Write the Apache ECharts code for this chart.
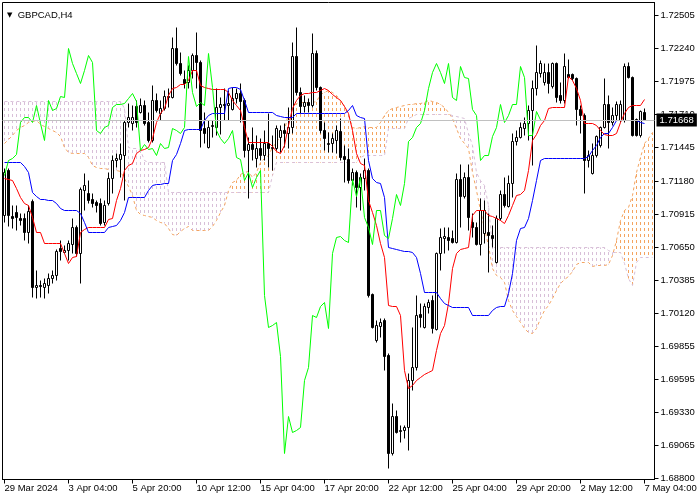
<!DOCTYPE html>
<html><head><meta charset="utf-8">
<script src="https://cdn.jsdelivr.net/npm/echarts@6/dist/echarts.min.js"></script>
<style>html,body{margin:0;padding:0;background:#fff}#c{width:700px;height:500px}</style>
</head><body><div id="c"></div>
<script>
const chartTitle = 'GBPCAD,H4';
const timeLabels = ['29 Mar 2024','3 Apr 04:00','5 Apr 20:00','10 Apr 12:00','15 Apr 04:00','17 Apr 20:00','22 Apr 12:00','25 Apr 04:00','29 Apr 20:00','2 May 12:00','7 May 04:00'];
const priceTicks = [1.68800,1.69065,1.69330,1.69595,1.69855,1.70120,1.70385,1.70650,1.70915,1.71180,1.71445,1.71710,1.71975,1.72240,1.72505];
const currentPrice = 1.71668;

const opens = [1.70903,1.71263,1.70895,1.70927,1.70879,1.70879,1.70767,1.71015,1.70327,1.70343,
1.70327,1.70343,1.70399,1.70423,1.70639,1.70607,1.70623,1.70671,1.70807,1.70599,
1.71103,1.71079,1.71031,1.71007,1.70999,1.70847,1.70999,1.71199,1.71343,1.71351,
1.71383,1.71647,1.71639,1.71775,1.71727,1.71783,1.71647,1.71503,1.71823,1.71719,
1.71759,1.71855,1.71847,1.72239,1.72119,1.71991,1.71967,1.72063,1.72183,1.72127,
1.71599,1.71447,1.71615,1.71607,1.71767,1.71791,1.71783,1.71751,1.71839,1.71879,
1.71823,1.71423,1.71471,1.71359,1.71439,1.71383,1.71479,1.71439,1.71439,1.71527,
1.71583,1.71559,1.71607,1.72175,1.71887,1.71775,1.71807,1.71783,1.72199,1.71927,
1.71583,1.71471,1.71479,1.71503,1.71575,1.71375,1.71351,1.71183,1.71247,1.71127,
1.71199,1.71263,1.70271,1.69903,1.70015,1.70063,1.69783,1.68999,1.69295,1.69175,
1.69183,1.69207,1.69583,1.69687,1.70111,1.70007,1.70167,1.70223,1.69991,1.70599,
1.70719,1.70727,1.70719,1.70687,1.71191,1.71055,1.71207,1.70847,1.70807,1.70671,
1.70759,1.70767,1.70743,1.70527,1.70879,1.71071,1.70975,1.71159,1.71495,1.71527,
1.71599,1.71639,1.71743,1.71919,1.72039,1.71967,1.72047,1.71935,1.72119,1.71863,
1.71823,1.72031,1.72031,1.71999,1.71751,1.71703,1.71343,1.71239,1.71383,1.71463,
1.71607,1.71791,1.71647,1.71703,1.71663,1.71663,1.72095,1.72007,1.71671,1.71543,
1.71727];
const closes = [1.71247,1.70903,1.70879,1.70887,1.70863,1.70767,1.70935,1.70327,1.70343,1.70335,
1.70359,1.70399,1.70423,1.70615,1.70615,1.70623,1.70679,1.70807,1.70599,1.71111,
1.71143,1.71023,1.70999,1.70983,1.70839,1.70983,1.71199,1.71343,1.71359,1.71391,
1.71647,1.71687,1.71687,1.71647,1.71783,1.71639,1.71503,1.71823,1.71743,1.71759,
1.71855,1.71847,1.72239,1.72119,1.72039,1.71959,1.72063,1.72183,1.72127,1.71583,
1.71559,1.71607,1.71623,1.71767,1.71791,1.71783,1.71799,1.71839,1.71879,1.71815,
1.71423,1.71471,1.71431,1.71439,1.71383,1.71479,1.71439,1.71447,1.71599,1.71583,
1.71559,1.71607,1.72175,1.71887,1.71775,1.71807,1.71783,1.72199,1.71927,1.71583,
1.71519,1.71479,1.71519,1.71583,1.71367,1.71351,1.71183,1.71247,1.71127,1.71207,
1.71263,1.70263,1.70007,1.70023,1.70047,1.69775,1.68999,1.69295,1.69167,1.69183,
1.69207,1.69583,1.69687,1.70103,1.70087,1.70175,1.70207,1.69999,1.70599,1.70727,
1.70735,1.70703,1.70687,1.71191,1.71055,1.71207,1.70887,1.70807,1.70671,1.70943,
1.70943,1.70743,1.70719,1.70879,1.71071,1.70983,1.71159,1.71495,1.71527,1.71607,
1.71639,1.71743,1.71919,1.72047,1.72119,1.72047,1.71959,1.72119,1.71847,1.71823,
1.72095,1.72007,1.71999,1.71751,1.71703,1.71343,1.71383,1.71383,1.71535,1.71607,
1.71791,1.71647,1.71703,1.71791,1.71791,1.72095,1.72007,1.71543,1.71543,1.71735,
1.71668];
const lows = [1.70847,1.70815,1.70799,1.70783,1.70823,1.70703,1.70679,1.70247,1.70239,1.70247,
1.70239,1.70279,1.70359,1.70383,1.70543,1.70599,1.70543,1.70599,1.70575,1.70359,
1.70943,1.70999,1.70967,1.70927,1.70823,1.70823,1.70983,1.71079,1.71287,1.71207,
1.71023,1.71607,1.71583,1.71607,1.71719,1.71623,1.71487,1.71487,1.71727,1.71663,
1.71743,1.71767,1.71839,1.72103,1.72023,1.71919,1.71919,1.71999,1.71919,1.71447,
1.71479,1.71439,1.71527,1.71543,1.71551,1.71663,1.71663,1.71743,1.71799,1.71647,
1.71367,1.71039,1.71343,1.71287,1.71343,1.71343,1.71287,1.71263,1.71423,1.71407,
1.71447,1.71439,1.71559,1.71863,1.71719,1.71727,1.71727,1.71767,1.71903,1.71559,
1.71423,1.71407,1.71407,1.71399,1.71343,1.71167,1.71159,1.71143,1.70967,1.70943,
1.71103,1.70247,1.69999,1.69887,1.69927,1.69663,1.68879,1.68983,1.69159,1.69087,
1.69119,1.69023,1.69503,1.69663,1.70007,1.69999,1.70119,1.69959,1.69983,1.70463,
1.70599,1.70623,1.70679,1.70679,1.70807,1.71039,1.70783,1.70727,1.70663,1.70583,
1.70679,1.70447,1.70647,1.70519,1.70863,1.70967,1.70967,1.71047,1.71463,1.71519,
1.71543,1.71503,1.71303,1.71863,1.72007,1.71943,1.71879,1.71919,1.71807,1.71799,
1.71799,1.71999,1.71983,1.71623,1.71559,1.71079,1.71287,1.71231,1.71367,1.71447,
1.71599,1.71439,1.71623,1.71663,1.71647,1.71647,1.71999,1.71535,1.71535,1.71527,
1.71663];
const highs = [1.71279,1.71279,1.70983,1.70983,1.70919,1.70919,1.70983,1.71031,1.70463,1.70383,
1.70399,1.70439,1.70463,1.70631,1.70703,1.70663,1.70703,1.70879,1.70823,1.71127,
1.71239,1.71183,1.71079,1.71023,1.71039,1.71023,1.71247,1.71383,1.71399,1.71479,
1.71663,1.71799,1.71783,1.71823,1.71839,1.71823,1.71727,1.71943,1.71879,1.71823,
1.71903,1.71919,1.72327,1.72407,1.72207,1.72063,1.72103,1.72199,1.72367,1.72143,
1.71727,1.71663,1.71663,1.71919,1.71847,1.71919,1.71903,1.71927,1.71919,1.71959,
1.71839,1.71527,1.71607,1.71543,1.71519,1.71583,1.71719,1.71543,1.71623,1.71623,
1.71639,1.71767,1.72287,1.72407,1.71927,1.71863,1.71839,1.72359,1.72223,1.71935,
1.71647,1.71567,1.71559,1.71623,1.71679,1.71463,1.71439,1.71279,1.71263,1.71239,
1.71359,1.71279,1.70279,1.70063,1.70079,1.70079,1.69799,1.69399,1.69343,1.69223,
1.69223,1.69639,1.70007,1.70263,1.70199,1.70199,1.70231,1.70263,1.70607,1.70799,
1.70807,1.70807,1.70783,1.71239,1.71311,1.71247,1.71311,1.70919,1.70847,1.71039,
1.71023,1.70919,1.70823,1.70903,1.71103,1.71207,1.71223,1.71559,1.71583,1.71647,
1.71687,1.71783,1.71983,1.72263,1.72143,1.72119,1.72119,1.72127,1.72127,1.71967,
1.72199,1.72151,1.72039,1.72007,1.71783,1.71719,1.71423,1.71479,1.71543,1.71615,
1.71999,1.71863,1.71767,1.71815,1.71823,1.72119,1.72127,1.72015,1.71679,1.71743,
1.71759];

const tenkan = [1.71199,1.71191,1.71183,1.71119,1.71047,1.70999,1.70983,1.70887,1.70767,1.70767,
1.70679,1.70679,1.70679,1.70679,1.70679,1.70599,1.70519,1.70567,1.70575,1.70767,
1.70791,1.70807,1.70807,1.70807,1.70807,1.70807,1.70871,1.70879,1.71023,1.71119,
1.71263,1.71303,1.71319,1.71399,1.71423,1.71431,1.71447,1.71519,1.71647,1.71719,
1.71759,1.71863,1.71919,1.71927,1.71951,1.71951,1.71983,1.72063,1.72063,1.71943,
1.71927,1.71919,1.71911,1.71911,1.71911,1.71911,1.71887,1.71823,1.71783,1.71743,
1.71607,1.71487,1.71487,1.71487,1.71487,1.71487,1.71487,1.71455,1.71415,1.71399,
1.71463,1.71623,1.71759,1.71823,1.71863,1.71879,1.71879,1.71887,1.71887,1.71903,
1.71919,1.71903,1.71871,1.71847,1.71823,1.71775,1.71719,1.71583,1.71399,1.71319,
1.71303,1.71023,1.70927,1.70823,1.70679,1.70567,1.70183,1.70175,1.70175,1.70103,
1.69663,1.69519,1.69543,1.69583,1.69607,1.69631,1.69647,1.69663,1.69823,1.69959,
1.70023,1.70199,1.70479,1.70599,1.70631,1.70639,1.70647,1.70903,1.70943,1.70943,
1.70943,1.70903,1.70895,1.70879,1.70863,1.70839,1.70903,1.70983,1.71063,1.71071,
1.71103,1.71263,1.71503,1.71551,1.71623,1.71663,1.71759,1.71767,1.71767,1.71767,
1.71767,1.72015,1.71983,1.71919,1.71823,1.71639,1.71639,1.71639,1.71623,1.71583,
1.71551,1.71543,1.71543,1.71559,1.71647,1.71719,1.71767,1.71783,1.71783,1.71783,
1.71831];
const kijun = [1.71327,1.71327,1.71327,1.71327,1.71327,1.71295,1.71247,1.71087,1.71055,1.71031,
1.71031,1.71023,1.71023,1.70999,1.70959,1.70943,1.70943,1.70943,1.70943,1.70919,
1.70847,1.70767,1.70767,1.70767,1.70767,1.70767,1.70807,1.70815,1.70823,1.70863,
1.70927,1.71047,1.71047,1.71047,1.71047,1.71047,1.71103,1.71143,1.71151,1.71151,
1.71159,1.71159,1.71343,1.71391,1.71479,1.71583,1.71591,1.71591,1.71591,1.71591,
1.71663,1.71703,1.71719,1.71719,1.71719,1.71719,1.71919,1.71927,1.71927,1.71911,
1.71823,1.71727,1.71727,1.71727,1.71727,1.71727,1.71727,1.71727,1.71703,1.71695,
1.71687,1.71687,1.71687,1.71719,1.71719,1.71719,1.71719,1.71719,1.71719,1.71719,
1.71719,1.71719,1.71719,1.71719,1.71719,1.71719,1.71743,1.71783,1.71703,1.71687,
1.71679,1.71343,1.71199,1.71167,1.71159,1.71047,1.70647,1.70639,1.70631,1.70623,
1.70615,1.70615,1.70607,1.70567,1.70439,1.70287,1.70287,1.70287,1.70287,1.70239,
1.70199,1.70183,1.70167,1.70167,1.70167,1.70167,1.70167,1.70103,1.70103,1.70103,
1.70103,1.70103,1.70143,1.70167,1.70175,1.70175,1.70279,1.70439,1.70703,1.70799,
1.70807,1.70879,1.71023,1.71183,1.71343,1.71359,1.71359,1.71359,1.71359,1.71359,
1.71359,1.71359,1.71359,1.71359,1.71359,1.71359,1.71375,1.71423,1.71463,1.71527,
1.71559,1.71559,1.71607,1.71663,1.71663,1.71663,1.71663,1.71663,1.71663,1.71647,
1.71639];
const chikou = [1.71223,1.71343,1.71359,1.71391,1.71647,1.71687,1.71687,1.71647,1.71783,1.71639,
1.71503,1.71823,1.71743,1.71759,1.71855,1.71847,1.72239,1.72119,1.72039,1.71959,
1.72063,1.72183,1.72127,1.71583,1.71559,1.71607,1.71623,1.71767,1.71791,1.71791,
1.71799,1.71839,1.71879,1.71815,1.71423,1.71471,1.71431,1.71439,1.71383,1.71479,
1.71439,1.71447,1.71599,1.71583,1.71559,1.71607,1.72175,1.71887,1.71775,1.71807,
1.71783,1.72199,1.71927,1.71583,1.71519,1.71479,1.71519,1.71583,1.71367,1.71351,
1.71183,1.71247,1.71127,1.71207,1.71263,1.70263,1.70007,1.70023,1.70047,1.69775,
1.68999,1.69295,1.69167,1.69183,1.69207,1.69583,1.69687,1.70103,1.70087,1.70175,
1.70207,1.69999,1.70599,1.70727,1.70735,1.70703,1.70687,1.71191,1.71055,1.71207,
1.70887,1.70807,1.70671,1.70943,1.70943,1.70743,1.70719,1.70879,1.71071,1.70983,
1.71159,1.71495,1.71527,1.71607,1.71639,1.71743,1.71919,1.72047,1.72119,1.72047,
1.71959,1.72119,1.71847,1.71823,1.72095,1.72007,1.71999,1.71751,1.71703,1.71343,
1.71383,1.71383,1.71535,1.71607,1.71791,1.71647,1.71703,1.71791,1.71791,1.72095,
1.72007,1.71543,1.71543,1.71735,1.71668];
const spanA = [1.71479,1.71511,1.71543,1.71583,1.71607,1.71623,1.71647,1.71655,1.71663,1.71631,
1.71615,1.71599,1.71583,1.71567,1.71535,1.71447,1.71407,1.71399,1.71399,1.71399,
1.71399,1.71367,1.71303,1.71287,1.71279,1.71279,1.71271,1.71263,1.71263,1.71255,
1.71199,1.71135,1.71063,1.70943,1.70911,1.70903,1.70895,1.70887,1.70863,1.70847,
1.70839,1.70799,1.70751,1.70743,1.70775,1.70799,1.70815,1.70783,1.70783,1.70783,
1.70783,1.70783,1.70815,1.70863,1.70927,1.70983,1.71103,1.71167,1.71183,1.71231,
1.71247,1.71255,1.71207,1.71247,1.71327,1.71359,1.71383,1.71447,1.71487,1.71543,
1.71583,1.71727,1.71767,1.71799,1.71807,1.71807,1.71807,1.71807,1.71815,1.71871,
1.71887,1.71903,1.71887,1.71863,1.71823,1.71775,1.71703,1.71607,1.71599,1.71607,
1.71615,1.71607,1.71607,1.71607,1.71647,1.71703,1.71743,1.71759,1.71767,1.71775,
1.71783,1.71791,1.71791,1.71799,1.71799,1.71807,1.71823,1.71815,1.71807,1.71791,
1.71767,1.71727,1.71679,1.71599,1.71519,1.71479,1.71439,1.71247,1.71103,1.70943,
1.70799,1.70663,1.70479,1.70423,1.70407,1.70367,1.70223,1.70143,1.70095,1.70047,
1.69999,1.69967,1.69959,1.69999,1.70079,1.70143,1.70183,1.70239,1.70303,1.70359,
1.70391,1.70415,1.70455,1.70511,1.70527,1.70527,1.70527,1.70495,1.70503,1.70503,
1.70503,1.70511,1.70583,1.70703,1.70863,1.70943,1.70967,1.71063,1.71247,1.71367,
1.71479,1.71519,1.71567];
const spanB = [1.71815,1.71815,1.71815,1.71815,1.71815,1.71815,1.71815,1.71815,1.71815,1.71815,
1.71815,1.71815,1.71815,1.71815,1.71815,1.71815,1.71815,1.71815,1.71815,1.71815,
1.71815,1.71815,1.71815,1.71815,1.71815,1.71815,1.71815,1.71815,1.71815,1.71815,
1.71759,1.71447,1.71439,1.71439,1.71423,1.71343,1.71327,1.71327,1.71327,1.71327,
1.71327,1.71087,1.71087,1.71087,1.71087,1.71087,1.71087,1.71087,1.71087,1.71087,
1.71087,1.71087,1.71087,1.71087,1.71087,1.71087,1.71087,1.71087,1.71087,1.71087,
1.71087,1.71087,1.71087,1.71087,1.71087,1.71087,1.71087,1.71223,1.71327,1.71327,
1.71327,1.71327,1.71327,1.71327,1.71327,1.71327,1.71327,1.71327,1.71327,1.71327,
1.71327,1.71327,1.71327,1.71327,1.71327,1.71327,1.71327,1.71327,1.71327,1.71367,
1.71383,1.71383,1.71383,1.71383,1.71383,1.71383,1.71599,1.71599,1.71599,1.71599,
1.71599,1.71679,1.71695,1.71711,1.71711,1.71711,1.71711,1.71711,1.71711,1.71711,
1.71711,1.71711,1.71703,1.71695,1.71687,1.71679,1.71559,1.71463,1.71247,1.71183,
1.71143,1.70983,1.70647,1.70647,1.70647,1.70647,1.70647,1.70647,1.70647,1.70647,
1.70647,1.70647,1.70647,1.70647,1.70647,1.70647,1.70647,1.70647,1.70647,1.70647,
1.70647,1.70647,1.70647,1.70647,1.70647,1.70647,1.70647,1.70647,1.70647,1.70647,
1.70647,1.70623,1.70607,1.70607,1.70607,1.70519,1.70399,1.70343,1.70527,1.70567,
1.70567,1.70567,1.70567];

const FONT = 'Liberation Sans';
const barCount = spanA.length;
const categories = Array.from({length: barCount}, (_, i) => String(i));
const candles = opens.map((o, i) => [o, closes[i], lows[i], highs[i]]);
const cloud = spanA.map((a, i) => [i, a, spanB[i]]);
const DASH = [3, 3];

const chart = echarts.init(document.getElementById('c'), null, {renderer: 'canvas'});
chart.setOption({
  animation: false,
  backgroundColor: '#ffffff',
  title: {
    text: '{t|▼}  ' + chartTitle,
    left: 2, top: 5,
    textStyle: {fontFamily: FONT, fontSize: 9.5, fontWeight: 'normal', color: '#000',
      rich: {t: {fontSize: 7, fontFamily: 'DejaVu Sans', color: '#000'}}}
  },
  grid: {left: 2.5, top: 2.5, right: 45.5, bottom: 20.5, show: true, borderColor: '#000', borderWidth: 1, backgroundColor: '#fff'},
  xAxis: {
    type: 'category', data: categories, boundaryGap: true,
    axisLine: {show: true, lineStyle: {color: '#000', width: 1}},
    axisTick: {show: true, alignWithLabel: true, interval: 15, length: 4, lineStyle: {color: '#000'}},
    axisLabel: {interval: 15, align: 'left', margin: 4, color: '#000', fontFamily: FONT, fontSize: 9.5,
      formatter: (v, i) => (i % 16 === 0 && timeLabels[i / 16]) ? timeLabels[i / 16] : ''},
    splitLine: {show: false}
  },
  yAxis: {
    type: 'value', position: 'right', min: 1.68791, max: 1.72607,
    axisLine: {show: true, lineStyle: {color: '#000', width: 1}},
    axisTick: {show: true, length: 4, customValues: priceTicks, lineStyle: {color: '#000'}},
    axisLabel: {customValues: priceTicks, margin: 6, color: '#000', fontFamily: FONT, fontSize: 9.5,
      formatter: v => v.toFixed(5)},
    splitLine: {show: false}
  },
  series: [
    {
      type: 'custom', name: 'Kumo', data: cloud, encode: {x: 0, y: [1, 2]}, z: 1, silent: true, clip: true,
      renderItem: (params, api) => {
        const i = api.value(0), a = api.value(1), b = api.value(2);
        const p1 = api.coord([i, a]), p2 = api.coord([i, b]);
        const yTop = Math.min(p1[1], p2[1]), yBot = Math.max(p1[1], p2[1]);
        const period = DASH[0] + DASH[1];
        return {type: 'line', shape: {x1: p1[0], y1: yTop, x2: p1[0], y2: yBot},
          style: {stroke: a >= b ? '#F4A460' : '#D8BFD8', lineWidth: 1, lineDash: DASH,
            lineDashOffset: ((yTop % period) + period) % period}};
      }
    },
    {type: 'line', name: 'Senkou Span A', data: spanA, symbol: 'none', z: 2, silent: true,
      lineStyle: {color: '#F4A460', width: 1, type: DASH}},
    {type: 'line', name: 'Senkou Span B', data: spanB, symbol: 'none', z: 2, silent: true,
      lineStyle: {color: '#D8BFD8', width: 1, type: DASH},
      markLine: {
        silent: true, symbol: ['none', 'none'], animation: false, precision: 5,
        lineStyle: {color: '#c0c0c0', width: 1, type: 'solid'},
        label: {show: true, position: 'end', distance: 2, formatter: currentPrice.toFixed(5),
          color: '#fff', backgroundColor: '#000', padding: [2, 3, 1, 3], fontFamily: FONT, fontSize: 9.5},
        emphasis: {disabled: true},
        data: [{yAxis: currentPrice}]
      }
    },
    {
      type: 'candlestick', name: 'GBPCAD', data: candles, barWidth: 2, z: 3, silent: true,
      itemStyle: {color: '#ffffff', color0: '#000000', borderColor: '#000000', borderColor0: '#000000', borderWidth: 1}
    },
    {type: 'line', name: 'Tenkan-sen', data: tenkan, symbol: 'none', z: 4, silent: true,
      lineStyle: {color: '#FF0000', width: 1}},
    {type: 'line', name: 'Kijun-sen', data: kijun, symbol: 'none', z: 4, silent: true,
      lineStyle: {color: '#0000FF', width: 1}},
    {type: 'line', name: 'Chikou Span', data: chikou, symbol: 'none', z: 4, silent: true,
      lineStyle: {color: '#00FF00', width: 1}}
  ]
});
</script>
</body></html>
